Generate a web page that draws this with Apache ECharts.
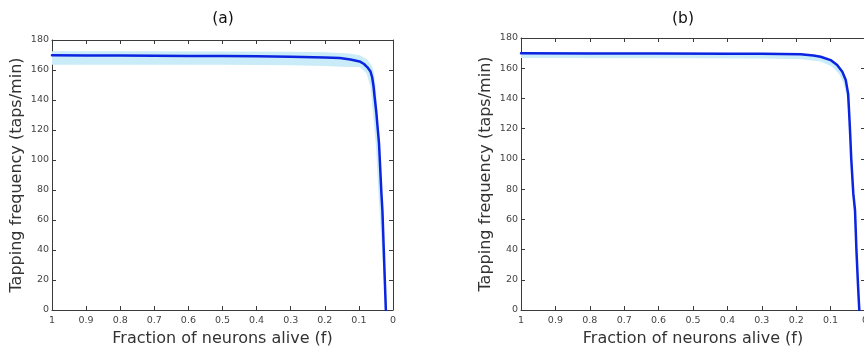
<!DOCTYPE html>
<html><head><meta charset="utf-8">
<script src="https://cdn.jsdelivr.net/npm/echarts@6/dist/echarts.min.js"></script>
<style>html,body{margin:0;padding:0;background:#fff}#c{width:864px;height:351px}</style>
</head><body><div id="c"></div>
<script>
// ---- data ----
var panelTitles = ['(a)', '(b)'];
var yTicks = [0, 20, 40, 60, 80, 100, 120, 140, 160, 180];
var xTicks = [1, 0.9, 0.8, 0.7, 0.6, 0.5, 0.4, 0.3, 0.2, 0.1, 0];

var meanA = [[1,169.8],[0.9,169.7],[0.8,169.6],[0.7,169.5],[0.6,169.4],[0.5,169.3],[0.4,169.1],[0.3,168.8],[0.2,168.4],[0.156,168],[0.125,167],[0.098,165.7],[0.085,164],[0.075,161.8],[0.066,159],[0.061,155],[0.057,149],[0.054,142.3],[0.049,132],[0.046,124],[0.041,111],[0.034,78],[0.031,66],[0.026,33],[0.021,0]];
var upperA = [[1,172.5],[0.7,172.5],[0.5,172.4],[0.3,172.2],[0.2,171.8],[0.13,171],[0.098,169.8],[0.075,167],[0.063,163],[0.059,161],[0.056,158],[0.051,149],[0.048,140],[0.045,127],[0.039,105],[0.032,75],[0.027,50],[0.02,10],[0.017,0]];
var lowerA = [[1,163.5],[0.7,163.5],[0.5,163.5],[0.3,163.2],[0.2,162.7],[0.15,162.2],[0.12,162],[0.098,162],[0.078,158],[0.066,149],[0.062,140],[0.057,127],[0.05,110],[0.043,80],[0.035,50],[0.027,20],[0.022,0]];

var meanB = [[1,169.9],[0.8,169.8],[0.6,169.7],[0.4,169.6],[0.3,169.5],[0.187,169.2],[0.15,168.4],[0.129,167.6],[0.1,165.4],[0.081,162.1],[0.066,157.7],[0.056,152.2],[0.049,143],[0.046,130],[0.043,116],[0.04,100],[0.034,77],[0.029,66],[0.025,40],[0.02,15],[0.0166,0]];
var upperB = [[1,170.5],[0.6,170.3],[0.3,170.1],[0.187,169.8],[0.129,168.3],[0.1,166.3],[0.081,163.2],[0.066,159],[0.056,154],[0.049,146],[0.043,122],[0.038,100],[0.032,75],[0.026,45],[0.02,15],[0.013,0]];
var lowerB = [[1,166.8],[0.5,166.6],[0.3,166.4],[0.187,166],[0.129,164.5],[0.095,161],[0.075,156],[0.062,150],[0.053,141],[0.047,128],[0.042,105],[0.036,78],[0.03,55],[0.024,28],[0.019,0]];

// ---- chart ----
var FONT = 'DejaVu Sans';
var AX = '#3a3a3a';
var grids = [
  {left: 52, top: 40, width: 341, height: 270, outerBoundsMode: 'none'},
  {left: 521, top: 38, width: 344, height: 272, outerBoundsMode: 'none'}
];
var titlePos = [218, 678];
var means = [meanA, meanB], uppers = [upperA, upperB], lowers = [lowerA, lowerB];

function fmtX(v) {
  for (var i = 0; i < xTicks.length; i++) if (Math.abs(xTicks[i] - v) < 1e-6) return String(xTicks[i]);
  return '';
}

var option = {
  animation: false,
  textStyle: {fontFamily: FONT},
  title: panelTitles.map(function (t, i) {
    return {text: t, left: titlePos[i], top: 6, textAlign: 'center',
      textStyle: {fontFamily: FONT, fontSize: 15.5, fontWeight: 'normal', color: '#111'}};
  }),
  grid: grids,
  xAxis: [],
  yAxis: [],
  series: []
};

[0, 1].forEach(function (g) {
  var baseX = {
    type: 'value', gridIndex: g, min: 0, max: 1, interval: 0.1, inverse: true,
    axisLine: {show: true, onZero: false, lineStyle: {color: AX, width: 1}},
    axisTick: {show: true, inside: true, length: 4, lineStyle: {color: AX}},
    splitLine: {show: false}
  };
  option.xAxis.push(Object.assign({}, baseX, {
    position: 'bottom',
    name: 'Fraction of neurons alive (f)', nameLocation: 'middle', nameGap: 17,
    nameTextStyle: {fontFamily: FONT, fontSize: 16, color: '#333'},
    axisLabel: {show: true, formatter: fmtX, fontSize: 9.5, color: '#444', margin: 6, fontFamily: FONT}
  }));
  option.xAxis.push(Object.assign({}, baseX, {position: 'top', axisLabel: {show: false}}));
  var baseY = {
    type: 'value', gridIndex: g, min: yTicks[0], max: yTicks[yTicks.length - 1], interval: 20,
    axisLine: {show: true, onZero: false, lineStyle: {color: AX, width: 1}},
    axisTick: {show: true, inside: true, length: 4, lineStyle: {color: AX}},
    splitLine: {show: false}
  };
  option.yAxis.push(Object.assign({}, baseY, {
    position: 'left',
    name: 'Tapping frequency (taps/min)', nameLocation: 'middle', nameGap: 27,
    nameTextStyle: {fontFamily: FONT, fontSize: 16, color: '#333'},
    axisLabel: {show: true, fontSize: 9.5, color: '#444', margin: 3, fontFamily: FONT}
  }));
  option.yAxis.push(Object.assign({}, baseY, {position: 'right', axisLabel: {show: false}}));

  var up = uppers[g], lo = lowers[g];
  option.series.push({
    type: 'custom', xAxisIndex: g * 2, yAxisIndex: g * 2, silent: true,
    data: [[0.5, 90]],
    renderItem: function (params, api) {
      var pts = up.map(function (p) { return api.coord(p); });
      for (var i = lo.length - 1; i >= 0; i--) pts.push(api.coord(lo[i]));
      return {type: 'polygon', shape: {points: pts, smooth: 0}, style: {fill: '#c9ecf8', stroke: null}};
    },
    z: 1
  });
  option.series.push({
    type: 'line', xAxisIndex: g * 2, yAxisIndex: g * 2, data: means[g],
    showSymbol: false, symbol: 'none', smooth: false,
    lineStyle: {color: '#0b24e0', width: 2.5, join: 'round', cap: 'round'}, z: 3
  });
});

var chart = echarts.init(document.getElementById('c'), null, {renderer: 'canvas'});
chart.setOption(option);
</script></body></html>
